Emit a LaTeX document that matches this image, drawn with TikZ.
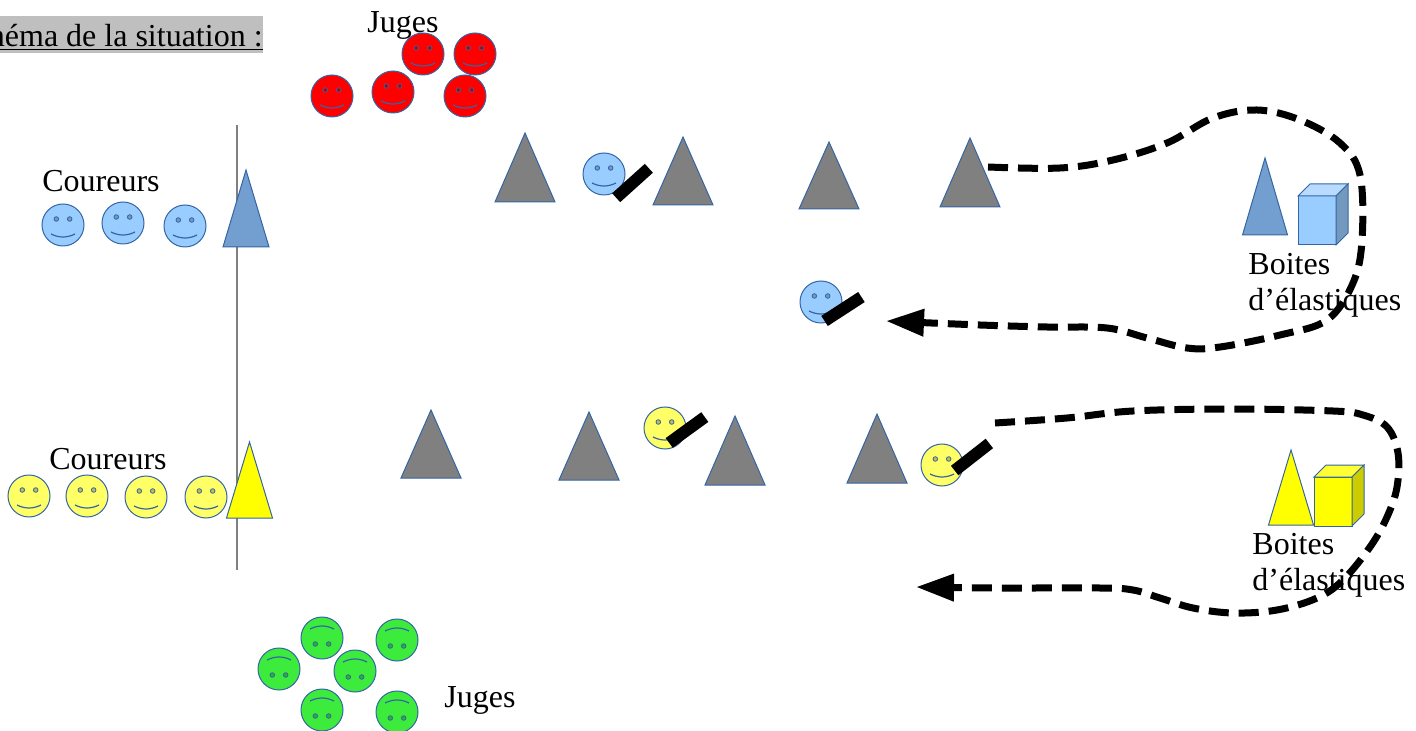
\documentclass[tikz,border=0pt]{standalone}
\usepackage{fontspec}
\setmainfont{Liberation Serif}
\usetikzlibrary{arrows.meta}

\definecolor{trait}{HTML}{3465A4}
\definecolor{rouge}{HTML}{FF0000}
\definecolor{bleuclair}{HTML}{99CCFF}
\definecolor{bleuplot}{HTML}{729FCF}
\definecolor{jaune}{HTML}{FFFF66}
\definecolor{jaunevif}{HTML}{FFFF00}
\definecolor{vert}{HTML}{3DEB3D}
\definecolor{gris}{HTML}{808080}

\tikzset{
  % a face: head, two eyes and a smile
  pics/visage/.style={code={
    \node[circle, draw=trait, line width=0.5pt, fill=#1, minimum size=21pt, inner sep=0pt] (-tete) at (0,0) {};
    \draw[trait, line width=0.4pt, fill=#1!75!black] (-6.7,-6) circle[radius=2.3] (6.7,-6) circle[radius=2.3];
    \draw[trait, line width=0.6pt] (-12,9) .. controls (-4,13) and (4,13) .. (12,9);
  }},
  % a cone: colour, half base, height
  pics/plot/.style n args={3}{code={
    \draw[trait, line width=0.5pt, fill=#1] (-#2,0) -- (0,-#3) -- (#2,0) -- cycle;
  }},
  % a box: front, top and side colours
  pics/boite/.style n args={3}{code={
    \draw[trait, line width=0.5pt, fill=#1] (0,0) rectangle (38,-49);
    \draw[trait, line width=0.5pt, fill=#2] (0,-49) -- (12,-61) -- (50,-61) -- (38,-49) -- cycle;
    \draw[trait, line width=0.5pt, fill=#3] (38,0) -- (50,-12) -- (50,-61) -- (38,-49) -- cycle;
  }}
}

\begin{document}
\begin{tikzpicture}[x=0.5pt, y=-0.5pt,
  texte/.style={font=\fontsize{16}{18}\selectfont, inner sep=0pt},
  baton/.style={fill=black, minimum width=22pt, minimum height=6pt, inner sep=0pt},
  parcours/.style={line width=3.5pt, dash pattern=on 10pt off 5pt, -{Triangle[length=19pt, width=13pt]}}]

  \clip (0,0) rectangle (1416,731);

  % Title
  \node[texte, fill=gris!50!white, anchor=base east, text height=15.3pt, text depth=3.2pt] (titre) at (263,46.5) {\underline{Schéma de la situation :}};

  % Start line
  \draw[gris, line width=1pt] (237,125) coordinate (ligneH) -- (237,570) coordinate (ligneB);

  % Judges (top)
  \pic (r1) at (423,54) {visage=rouge};
  \pic (r2) at (475,54) {visage=rouge};
  \pic (r3) at (332,96) {visage=rouge};
  \pic (r4) at (393,92) {visage=rouge};
  \pic (r5) at (465,96) {visage=rouge};
  \node[texte, anchor=base] (jugesH) at (403,33) {Juges};

  % Blue runners
  \pic (b1) at (63,225) {visage=bleuclair};
  \pic (b2) at (123,223) {visage=bleuclair};
  \pic (b3) at (185,226) {visage=bleuclair};
  \node[texte, anchor=base] (coureursH) at (101,192) {Coureurs};
  \pic (pb0) at (246,247) {plot={bleuplot}{23}{77}};

  % Blue track
  \pic (pb1) at (525,202) {plot={gris}{30}{69}};
  \pic (pb2) at (683,205) {plot={gris}{30}{68}};
  \pic (pb3) at (829,209) {plot={gris}{30}{67}};
  \pic (pb4) at (970,207) {plot={gris}{30}{69}};
  \pic (b4) at (604,174) {visage=bleuclair};
  \node[baton, rotate=42] (sb4) at (632.5,183) {};
  \pic (b5) at (821,302) {visage=bleuclair};
  \node[baton, rotate=33] (sb5) at (843,309) {};

  % Blue boxes
  \pic (pb5) at (1265,235) {plot={bleuplot}{22.5}{77}};
  \pic (cb) at (1298,245) {boite={bleuclair}{bleuclair!70!white}{bleuclair!75!black}};
  \node[texte, anchor=base west, align=left] (boitesH) at (1248,311) {Boites\\d’élastiques};

  % Yellow runners
  \pic (y1) at (29,496) {visage=jaune};
  \pic (y2) at (87,496) {visage=jaune};
  \pic (y3) at (146,497) {visage=jaune};
  \pic (y4) at (206,497) {visage=jaune};
  \node[texte, anchor=base] (coureursB) at (108,469) {Coureurs};
  \pic (py0) at (249.5,518) {plot={jaunevif}{23}{76}};

  % Yellow track
  \pic (py1) at (431,478) {plot={gris}{30}{68}};
  \pic (py2) at (589,480) {plot={gris}{30}{68}};
  \pic (py3) at (735,485) {plot={gris}{30}{69}};
  \pic (py4) at (877,483) {plot={gris}{30}{69}};
  \pic (y5) at (665,428) {visage=jaune};
  \node[baton, rotate=36] (sy5) at (687,430) {};
  \pic (y6) at (942,465) {visage=jaune};
  \node[baton, rotate=38] (sy6) at (972,457) {};

  % Yellow boxes
  \pic (py5) at (1291,525) {plot={jaunevif}{22.5}{75}};
  \pic (cy) at (1314,526) {boite={jaunevif}{jaunevif!80!white}{jaunevif!80!black}};
  \node[texte, anchor=base west, align=left] (boitesB) at (1252,590) {Boites\\d’élastiques};

  % Judges (bottom)
  \pic[rotate=180] (g1) at (322,638) {visage=vert};
  \pic[rotate=180] (g2) at (397,640) {visage=vert};
  \pic[rotate=180] (g3) at (279,669) {visage=vert};
  \pic[rotate=180] (g4) at (355,671) {visage=vert};
  \pic[rotate=180] (g5) at (322,710) {visage=vert};
  \pic[rotate=180] (g6) at (397,712) {visage=vert};
  \node[texte, anchor=base] (jugesB) at (480,707) {Juges};

  % Routes to the boxes and back
  \coordinate (depart1) at (988,167);
  \coordinate (retour1) at (886,321);
  \draw[parcours] plot[smooth, tension=0.6] coordinates {(depart1) (1060,168) (1113,160) (1167,143) (1213,118) (1257,110) (1300,120) (1340,143) (1360,175) (1362,240) (1353,283) (1327,320) (1280,335) (1220,347) (1187,348) (1147,338) (1107,328) (1047,327) (980,325) (retour1)};

  \coordinate (depart2) at (995,423);
  \coordinate (retour2) at (916,587);
  \draw[parcours] plot[smooth, tension=0.6] coordinates {(depart2) (1067,418) (1133,411) (1233,409) (1333,411) (1363,415) (1387,427) (1398,453) (1397,487) (1387,517) (1370,547) (1343,580) (1317,598) (1277,610) (1233,613) (1193,608) (1160,598) (1133,590) (1100,588) (1000,588) (retour2)};

\end{tikzpicture}
\end{document}
